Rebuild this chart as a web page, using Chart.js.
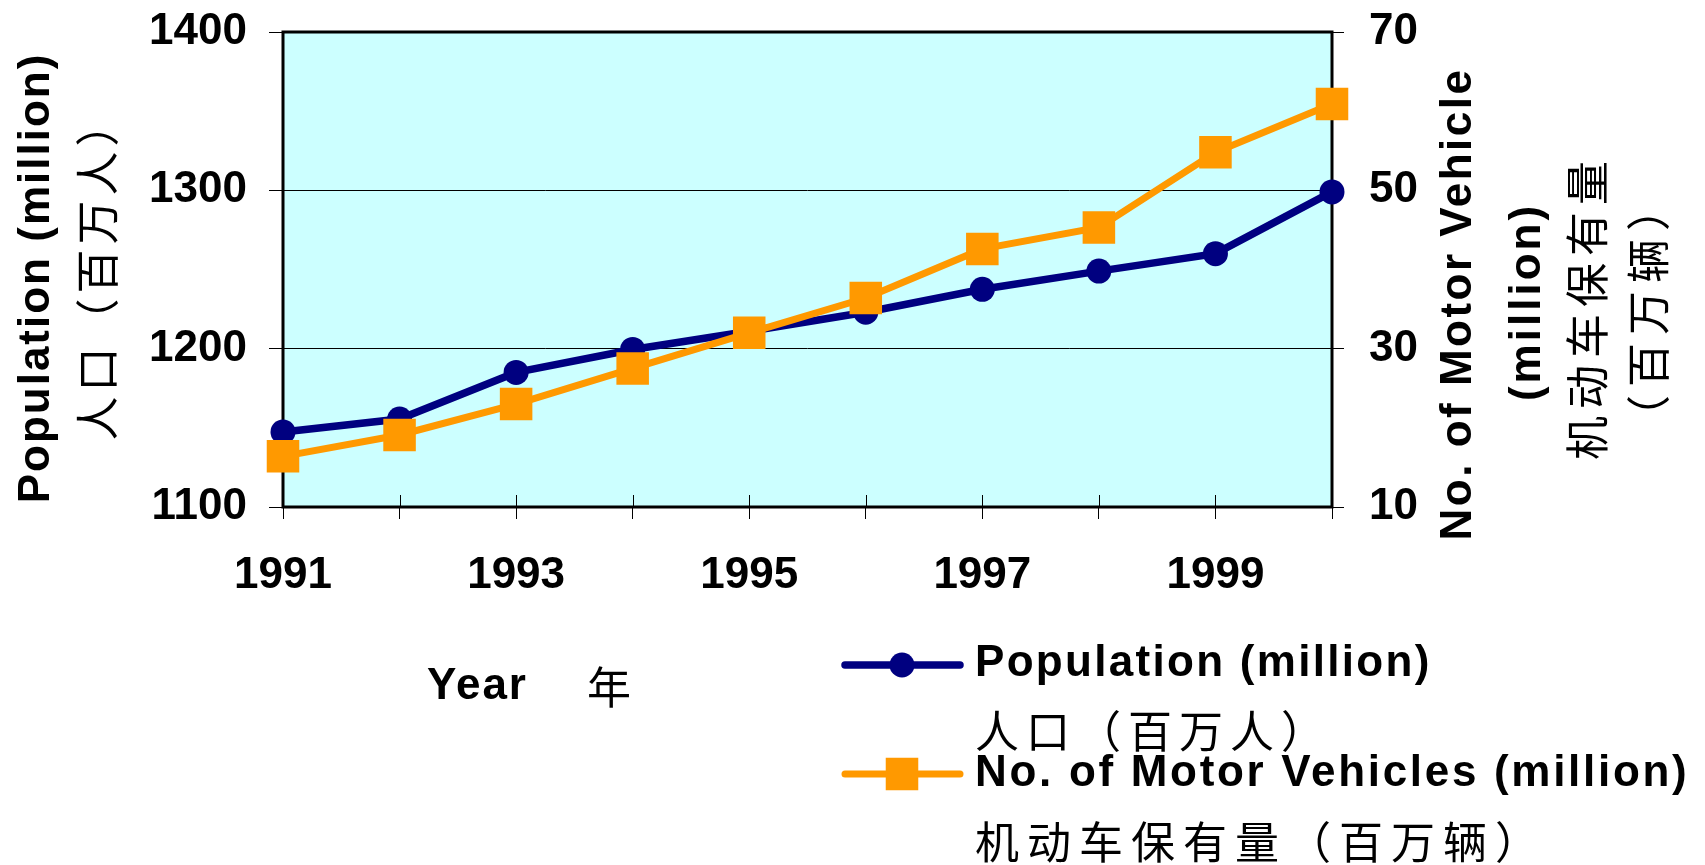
<!DOCTYPE html>
<html>
<head>
<meta charset="utf-8">
<script src="https://cdn.jsdelivr.net/npm/chart.js@4/dist/chart.umd.min.js"></script>
<style>
  html, body { margin: 0; padding: 0; background: #fff; }
  #wrap { width: 1705px; height: 865px; position: relative; }
</style>
</head>
<body>
<div id="wrap"><canvas id="chart"></canvas></div>
<script>
const years = ['1991', '1992', '1993', '1994', '1995', '1996', '1997', '1998', '1999', '2000']
const population = [1147.4, 1155.6, 1185, 1199.5, 1211, 1223, 1237.5, 1249, 1260, 1299]
const vehicles = [16.4, 19.1, 23.0, 27.5, 32.0, 36.4, 42.6, 45.3, 54.8, 60.9]
const popTicks = [1100, 1200, 1300, 1400]
const vehTicks = [10, 30, 50, 70]

const leftTitle = ['Population (million)', '人口（百万人）']
const rightTitle = ['No. of Motor Vehicle', '(million)', '机动车保有量', '（百万辆）']
const xTitle = ['Year', '年']
const legendText = [
  ['Population (million)', '人口（百万人）'],
  ['No. of Motor Vehicles (million)', '机动车保有量（百万辆）']
]

const NAVY = '#000080'
const ORANGE = '#FF9900'
const BOLD = 'bold 44px "Liberation Sans", Arial, sans-serif'
const CJK = '44px "Noto Sans CJK SC", sans-serif'

function drawText(ctx, str, x, y, font, opts = {}) {
  ctx.save()
  ctx.translate(x, y)
  if (opts.rotate) ctx.rotate(opts.rotate)
  ctx.font = font
  ctx.fillStyle = '#000'
  ctx.textAlign = opts.align || 'center'
  ctx.textBaseline = 'middle'
  if (opts.spacing) ctx.letterSpacing = opts.spacing
  ctx.fillText(str, 0, 0)
  ctx.restore()
}

const frame = {
  id: 'frame',
  beforeDraw(chart) {
    const { ctx, chartArea: a } = chart
    ctx.save()
    ctx.fillStyle = '#CCFFFF'
    ctx.fillRect(a.left, a.top, a.right - a.left, a.bottom - a.top)
    ctx.restore()
  },
  beforeDatasetsDraw(chart) {
    const { ctx, chartArea: a, scales } = chart
    ctx.save()
    ctx.strokeStyle = '#000'
    ctx.lineWidth = 1
    // x tick marks cross the axis line
    scales.x.ticks.forEach((t, i) => {
      const x = Math.round(scales.x.getPixelForTick(i)) + 0.5
      ctx.beginPath()
      ctx.moveTo(x, a.bottom)
      ctx.lineTo(x, a.bottom - 12)
      ctx.stroke()
    })
    ctx.lineWidth = 3
    ctx.strokeRect(a.left, a.top, a.right - a.left, a.bottom - a.top)
    ctx.restore()
  },
  afterDraw(chart) {
    const { ctx, chartArea: a } = chart
    const up = -Math.PI / 2

    // axis titles
    drawText(ctx, leftTitle[0], a.left - 246, a.top + 246, BOLD, { rotate: up, spacing: '2px' })
    drawText(ctx, leftTitle[1], a.left - 186, a.top + 237, CJK, { rotate: up, spacing: '5px' })
    drawText(ctx, rightTitle[0], a.right + 127, a.top + 272, BOLD, { rotate: up, spacing: '2.5px' })
    drawText(ctx, rightTitle[1], a.right + 196, a.top + 270, BOLD, { rotate: up, spacing: '3px' })
    drawText(ctx, rightTitle[2], a.right + 255, a.top + 275, CJK, { rotate: up, spacing: '7px' })
    drawText(ctx, rightTitle[3], a.right + 316, a.top + 277, CJK, { rotate: up, spacing: '8px' })
    drawText(ctx, xTitle[0], 427, 687, BOLD, { align: 'left', spacing: '2px' })
    drawText(ctx, xTitle[1], 587, 687, CJK, { align: 'left' })

    // legend
    const rows = [665, 774]
    chart.data.datasets.forEach((ds, i) => {
      const y = rows[i]
      ctx.save()
      ctx.strokeStyle = ds.borderColor
      ctx.fillStyle = ds.borderColor
      ctx.lineWidth = ds.borderWidth
      ctx.lineCap = 'round'
      ctx.beginPath()
      ctx.moveTo(845, y)
      ctx.lineTo(960, y)
      ctx.stroke()
      ctx.beginPath()
      if (ds.pointStyle === 'circle') {
        ctx.arc(902, y, ds.pointRadius, 0, Math.PI * 2)
      } else {
        const h = ds.pointRadius * Math.SQRT1_2
        ctx.rect(902 - h, y - h, 2 * h, 2 * h)
      }
      ctx.fill()
      ctx.restore()
    })
    drawText(ctx, legendText[0][0], 975, 664, BOLD, { align: 'left', spacing: '2.3px' })
    drawText(ctx, legendText[0][1], 975, 731, CJK, { align: 'left', spacing: '7px' })
    drawText(ctx, legendText[1][0], 975, 774, BOLD, { align: 'left', spacing: '2.7px' })
    drawText(ctx, legendText[1][1], 975, 842, CJK, { align: 'left', spacing: '8px' })
  }
}

const tickFont = { family: '"Liberation Sans", Arial, sans-serif', size: 44, weight: 'bold' }

// fixed axis sizes so the plot area lands where it does in the original
function fixWidth(w) {
  return s => {
    s.width = w
    s.paddingTop = 0
    s.paddingBottom = 0
  }
}

new Chart(document.getElementById('chart'), {
  type: 'line',
  data: {
    labels: years,
    datasets: [
      {
        label: legendText[0].join(' '),
        data: population,
        yAxisID: 'y',
        borderColor: NAVY,
        backgroundColor: NAVY,
        borderWidth: 7.5,
        pointStyle: 'circle',
        pointRadius: 12.5,
        pointBorderWidth: 0,
        pointBackgroundColor: NAVY,
        tension: 0,
        clip: false,
        order: 2
      },
      {
        label: legendText[1].join(' '),
        data: vehicles,
        yAxisID: 'y1',
        borderColor: ORANGE,
        backgroundColor: ORANGE,
        borderWidth: 7,
        pointStyle: 'rect',
        pointRadius: 23,
        pointBorderWidth: 0,
        pointBackgroundColor: ORANGE,
        tension: 0,
        clip: false,
        order: 1
      }
    ]
  },
  options: {
    responsive: true,
    maintainAspectRatio: false,
    animation: false,
    devicePixelRatio: 1,
    layout: { padding: { top: 32, left: 0, right: 0, bottom: 0 } },
    plugins: {
      legend: { display: false },
      tooltip: { enabled: false }
    },
    scales: {
      x: {
        offset: false,
        border: { display: false },
        grid: { drawOnChartArea: false, color: '#000', tickLength: 12, lineWidth: 1 },
        ticks: {
          autoSkip: false,
          maxRotation: 0,
          padding: 30,
          color: '#000',
          font: tickFont,
          callback: (v, i) => (i % 2 === 0 ? years[i] : '')
        },
        afterFit: s => {
          s.height = 358
          s.paddingLeft = 0
          s.paddingRight = 0
        }
      },
      y: {
        position: 'left',
        min: 1100,
        max: 1400,
        border: { display: false },
        grid: { color: '#000', lineWidth: 1, tickLength: 14 },
        ticks: {
          padding: 22,
          color: '#000',
          font: tickFont,
          callback: v => String(v)
        },
        afterBuildTicks: s => { s.ticks = popTicks.map(v => ({ value: v })) },
        afterFit: fixWidth(283)
      },
      y1: {
        position: 'right',
        min: 10,
        max: 70,
        border: { display: false },
        grid: { drawOnChartArea: false, color: '#000', lineWidth: 1, tickLength: 12 },
        ticks: {
          padding: 25,
          color: '#000',
          font: tickFont,
          callback: v => String(v)
        },
        afterBuildTicks: s => { s.ticks = vehTicks.map(v => ({ value: v })) },
        afterFit: fixWidth(373)
      }
    }
  },
  plugins: [frame]
})
</script>
</body>
</html>
